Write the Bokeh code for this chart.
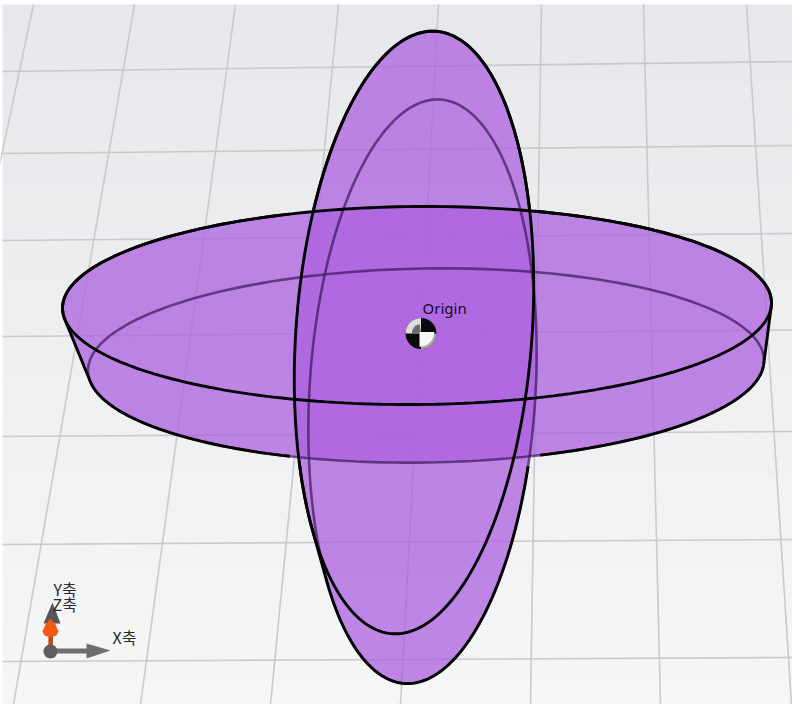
import numpy as np
from bokeh.plotting import figure
from bokeh.models import Range1d
from bokeh.core.properties import value
from bokeh.embed import file_html
from bokeh.resources import INLINE

# --- floor grid (screen-space end points)
h_left_y = [71, 153, 240, 336, 436, 544, 661]
h_right_y = [61, 145, 233, 329.5, 431, 539, 657]
v_top_x = [33, 134, 235, 338, 438, 541, 643, 746]
v_bot_x = [-115, 13, 140, 270, 400, 530, 660, 791]

# --- discs: centre x, centre y, semi axis a, semi axis b, tilt (radians)
flat_front = (416.5, 305, 354.5, 99, -0.008)
flat_rear = (425.5, 365, 338, 97, -0.016)
tall_front = (413.5, 332, 118, 302, 0.073)
tall_rear = (422, 391, 113, 292.5, 0.06)

axis_labels = ["Y축", "Z축", "X축"]
axis_label_x = [53, 52, 112]
axis_label_y = [588, 603, 636]


def ring(c):
    cx, cy, a, b, t = c
    u = np.linspace(0, 2 * np.pi, 241)
    x = a * np.cos(u)
    y = b * np.sin(u)
    return cx + x * np.cos(t) - y * np.sin(t), cy + x * np.sin(t) + y * np.cos(t)


def hull(c1, c2):
    x1, y1 = ring(c1)
    x2, y2 = ring(c2)
    pts = sorted(set(zip(np.r_[x1, x2].tolist(), np.r_[y1, y2].tolist())))
    def half(seq):
        out = []
        for p in seq:
            while len(out) > 1 and (out[-1][0]-out[-2][0])*(p[1]-out[-2][1]) - (out[-1][1]-out[-2][1])*(p[0]-out[-2][0]) <= 0:
                out.pop()
            out.append(p)
        return out[:-1]
    h = half(pts) + half(pts[::-1])
    h.append(h[0])
    return np.array([q[0] for q in h]), np.array([q[1] for q in h])


p = figure(width=792, height=704, output_backend="svg", toolbar_location=None,
           x_range=Range1d(0, 792), y_range=Range1d(704, 0),
           x_axis_location=None, y_axis_location=None, min_border=0,
           background_fill_color="#ffffff", outline_line_color=None,
           styles={"position": "absolute", "left": "0px", "top": "0px"})
p.grid.visible = False

# backdrop
n = 70
edges = np.linspace(4, 704, n + 1)
top_c = np.array([231, 232, 235])
bot_c = np.array([245, 246, 246])
cols = []
for f in np.linspace(0, 1, n):
    r, g, b = (top_c + (bot_c - top_c) * f).round().astype(int)
    cols.append(f"#{r:02x}{g:02x}{b:02x}")
p.quad(left=2, right=792, top=edges[:-1], bottom=np.minimum(edges[1:] + 1, 704), fill_color=cols, line_color=None)

# grid
GRID = "#c8cacc"
for a, b in zip(h_left_y, h_right_y):
    p.line([2, 792], [a, b], line_color=GRID, line_width=1.6)
for a, b in zip(v_top_x, v_bot_x):
    p.line([a, b], [4, 704], line_color=GRID, line_width=1.6)

# fills
FILL = "#ac61e0"
fx, fy = hull(flat_front, flat_rear)
tx, ty = hull(tall_front, tall_rear)
p.patch(fx, fy, fill_color=FILL, fill_alpha=0.76, line_color=None)
p.patch(tx, ty, fill_color=FILL, fill_alpha=0.76, line_color=None)

# hidden edges
for c in (flat_rear, tall_rear):
    x, y = ring(c)
    p.line(x, y, line_color="#3a1a5a", line_alpha=0.7, line_width=2.6)

# silhouettes, only where they are not seen through the other disc
fxx, fyy = fx.copy(), fy.copy()
fyy[(fxx > 296) & (fxx < 533)] = np.nan
p.line(fxx, fyy, line_color="#000000", line_width=2.9)
txx, tyy = tx.copy(), ty.copy()
txx[(tyy > 215) & (tyy < 460)] = np.nan
p.line(txx, tyy, line_color="#000000", line_width=2.9)

# front edges
for c in (flat_front, tall_front):
    x, y = ring(c)
    p.line(x, y, line_color="#000000", line_width=2.9)

# origin marker
ox, oy, orad = 420.5, 333, 15.5
p.circle([ox], [oy], radius=orad, fill_color="#0a0a0a", line_color=None)
p.wedge([ox], [oy], radius=orad, start_angle=np.pi / 2, end_angle=np.pi, direction="anticlock",
        fill_color="#dcdcdc", line_color=None)
p.wedge([ox], [oy], radius=orad * 0.6, start_angle=np.pi * 0.55, end_angle=np.pi, direction="anticlock",
        fill_color="#6a6a6a", line_color=None)
p.wedge([ox], [oy], radius=orad, start_angle=-np.pi / 2, end_angle=0, direction="anticlock",
        fill_color="#a8a8a8", line_color=None)
p.wedge([ox - 1.5], [oy - 1.5], radius=orad * 0.95, start_angle=-np.pi / 2, end_angle=0, direction="anticlock",
        fill_color="#f7f7f7", line_color=None)
p.text([422], [307], text=["Origin"], text_font=value("Noto Sans"), text_font_size="15px",
       text_color="#15091f", text_baseline="alphabetic")

# triad
p.line([50, 90], [650.5, 650.5], line_color="#6f6f6f", line_width=5)
p.patch([86, 110, 86], [643, 650, 658], fill_color="#6e6e6e", line_color=None)
p.line([50, 51], [650, 620], line_color="#555555", line_width=4)
p.patch([43, 52, 60], [623, 602, 623], fill_color="#565656", line_color=None)
p.line([50, 50], [650, 632], line_color="#c9440b", line_width=4)
p.patch([42, 45, 50, 55, 58, 56, 50, 44], [631, 624, 618, 624, 631, 635, 637, 635],
        fill_color="#f25a12", line_color=None)
p.circle([50], [651], radius=7, fill_color="#5e5e5e", line_color=None)
p.text(axis_label_x, axis_label_y, text=axis_labels, text_font=value("Noto Sans CJK KR"),
       text_font_size="16px", text_color="#2a2a2a", text_baseline="alphabetic")

open("out.html", "w").write(file_html(p, INLINE))
